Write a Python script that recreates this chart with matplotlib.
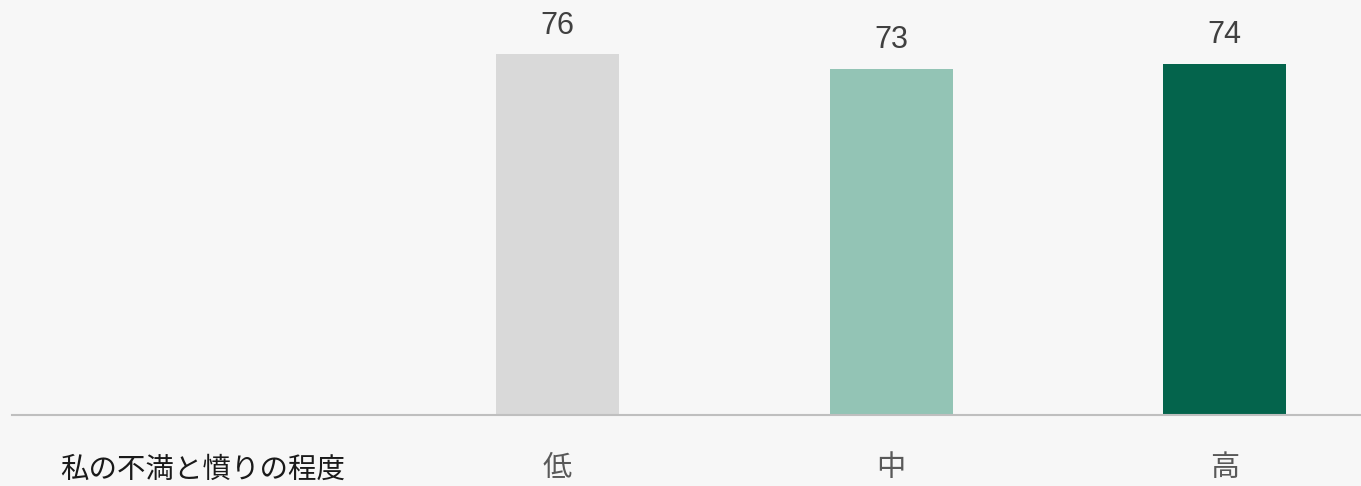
import matplotlib.pyplot as plt

plt.rcParams['font.family'] = ['Liberation Sans', 'Noto Sans CJK JP', 'DejaVu Sans']

# Data
row_label = "私の不満と憤りの程度"
categories = ["低", "中", "高"]
values = [76, 73, 74]
colors = ["#d9d9d9", "#93c4b5", "#04644c"]

fig = plt.figure(figsize=(13.61, 4.86), dpi=100)
fig.patch.set_facecolor("#f7f7f7")
ax = fig.add_axes([0, 0, 1, 1])
ax.set_facecolor("#f7f7f7")

x = [1, 2, 3]
ax.bar(x, values, width=0.369, bottom=-0.4, color=colors, zorder=2)

# baseline
ax.axhline(0, xmin=12 / 1361, xmax=1, color="#bfbfbf", linewidth=1.5, zorder=3)

# value labels
for xi, v in zip(x, values):
    ax.text(xi, v + 5.6, f"{v}", ha="center", va="center",
            fontsize=22, color="#404040")

# category labels
for xi, c in zip(x, categories):
    ax.text(xi, -11.2, c, ha="center", va="center", fontsize=21,
            color="#595959", family=['Noto Sans CJK JP', 'DejaVu Sans'])

ax.text(60 / 1361, 16 / 486, row_label, transform=ax.transAxes,
        ha="left", va="center", fontsize=20.5, color="#1a1a1a",
        family=['Noto Sans CJK JP', 'DejaVu Sans'])

ax.set_xlim(-0.672, 3.409)
ax.set_ylim(-15.0, 87.0)
ax.axis("off")

fig.savefig("out.png", dpi=100, facecolor=fig.get_facecolor())
